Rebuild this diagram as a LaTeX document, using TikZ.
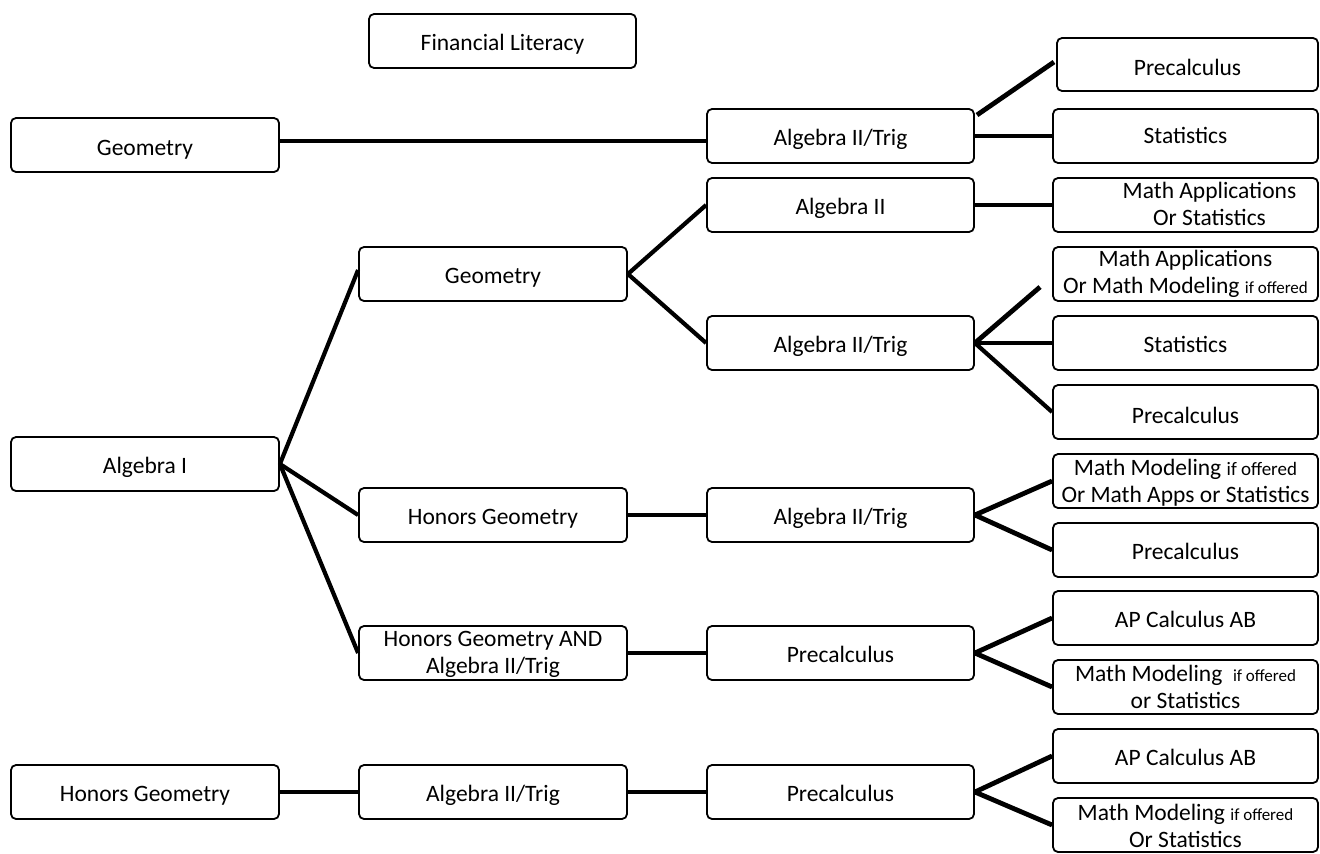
\documentclass[tikz,border=0pt]{standalone}
\usepackage{fontspec}
\setmainfont{Carlito}
\begin{document}
\begin{tikzpicture}[x=1pt,y=-1pt,
  box/.style={draw=black,line width=1.8pt,rounded corners=5pt,inner sep=0pt,
    minimum height=54pt,align=center,font=\fontsize{23.5}{27}\selectfont,
    text height=36pt,text depth=18pt},
  wA/.style={minimum width=268pt},
  wB/.style={minimum width=267pt},
  wC/.style={minimum width=265pt},
  conn/.style={line width=4.8pt},
  fan/.style={line width=4.2pt}]
\newcommand{\sm}[1]{{\fontsize{17}{20}\selectfont #1}}
\newcommand{\smb}[1]{{\fontsize{19}{20}\selectfont #1}}
\useasboundingbox (0,0) rectangle (1320,854);
% column 1
\node[box,wB] (fin) at (502.5,41) {Financial Literacy};
\node[box,wA,text height=37pt,text depth=17pt] (geo1) at (145,145) {Geometry};
\node[box,wA] (alg1) at (145,464) {Algebra I};
\node[box,wA] (hg5) at (145,792) {Honors Geometry};
% column 2
\node[box,wA] (geo2) at (493,274) {Geometry};
\node[box,wA,text height=47pt,text depth=7pt] (hga) at (493,653) {Honors Geometry AND\\Algebra II/Trig};
\node[box,wA] (hg3) at (493,515) {Honors Geometry};
\node[box,wA] (at5) at (493,792) {Algebra II/Trig};
% column 3
\node[box,wB] (at1) at (840.5,136) {Algebra II/Trig};
\node[box,wB] (a2) at (840.5,205) {Algebra II};
\node[box,wB] (at2) at (840.5,343) {Algebra II/Trig};
\node[box,wB] (at3) at (840.5,515) {Algebra II/Trig};
\node[box,wB] (pc4) at (840.5,653) {Precalculus};
\node[box,wB] (pc5) at (840.5,792) {Precalculus};
% column 4
\node[box,minimum width=261pt,minimum height=53pt,text height=37.5pt,text depth=15.5pt] (pc1) at (1187.5,64.5) {Precalculus};
\node[box,wC,text height=34.5pt,text depth=19.5pt] (st1) at (1185.5,136) {Statistics};
\node[box,wC,text height=47pt,text depth=7pt] (ma1) at (1185.5,205) {\hspace*{48pt}Math Applications\\\hspace*{48pt}Or Statistics};
\node[box,wC,text height=46pt,text depth=8pt] (ma2) at (1185.5,274) {Math Applications\\Or Math Modeling \sm{if offered}};
\node[box,wC] (st2) at (1185.5,343) {Statistics};
\node[box,wC,text height=38pt,text depth=16pt] (pc2) at (1185.5,412) {Precalculus};
\node[box,wC,text height=48pt,text depth=6pt] (mm3) at (1185.5,481) {Math Modeling \smb{if offered}\\Or Math Apps or Statistics};
\node[box,wC] (pc3) at (1185.5,550) {Precalculus};
\node[box,wC] (ap4) at (1185.5,618) {AP Calculus AB};
\node[box,wC,text height=48pt,text depth=6pt] (mm4) at (1185.5,687) {Math Modeling\ \ \sm{if offered}\\or Statistics};
\node[box,wC] (ap5) at (1185.5,756) {AP Calculus AB};
\node[box,wC,text height=49pt,text depth=5pt] (mm5) at (1185.5,825) {Math Modeling \sm{if offered}\\Or Statistics};
% free ends
\coordinate (c1s) at (977,115);
\coordinate (c1e) at (1054,62);
\coordinate (c2e) at (1040,287);
% connectors
\draw[conn] ([yshift=4pt]geo1.east) -- ([yshift=-5pt]at1.west);
\draw[conn] (c1s) -- (c1e);
\draw[conn] (at1.east) -- (st1.west);
\draw[conn] (a2.east) -- (ma1.west);
\draw[fan] (alg1.east) -- ([yshift=4pt]geo2.west);
\draw[fan] (alg1.east) -- (hg3.west);
\draw[fan] (alg1.east) -- (hga.west);
\draw[fan] (geo2.east) -- (a2.west);
\draw[fan] (geo2.east) -- (at2.west);
\draw[conn] (at2.east) -- (c2e);
\draw[conn] (at2.east) -- (st2.west);
\draw[fan] (at2.east) -- (pc2.west);
\draw[conn] (hg3.east) -- (at3.west);
\draw[conn] (at3.east) -- (mm3.west);
\draw[conn] (at3.east) -- (pc3.west);
\draw[conn] (hga.east) -- (pc4.west);
\draw[conn] (pc4.east) -- (ap4.west);
\draw[conn] (pc4.east) -- (mm4.west);
\draw[conn] (hg5.east) -- (at5.west);
\draw[conn] (at5.east) -- (pc5.west);
\draw[conn] (pc5.east) -- (ap5.west);
\draw[conn] (pc5.east) -- (mm5.west);
\end{tikzpicture}
\end{document}
